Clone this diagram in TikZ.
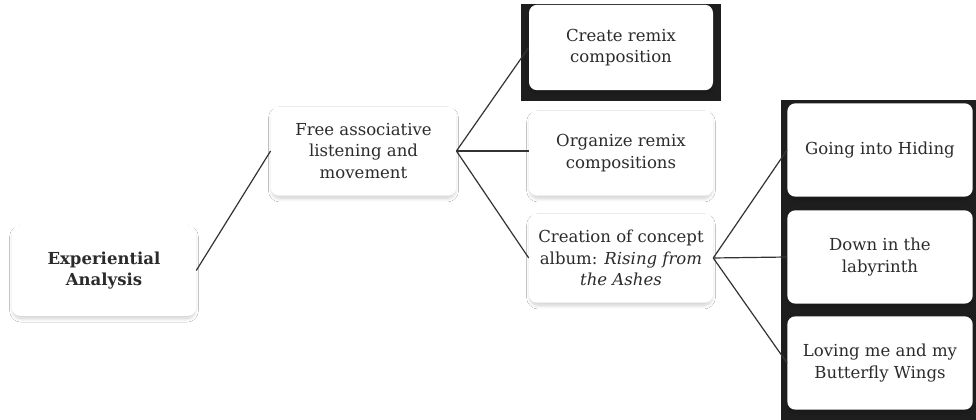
\documentclass[tikz,border=0pt]{standalone}
\usepackage{fontspec}
\setmainfont{DejaVu Serif}
\usetikzlibrary{shadows.blur}
\definecolor{txt}{HTML}{2B2B2B}
\definecolor{ln}{HTML}{333333}
\definecolor{blk}{HTML}{1E1E1E}
\tikzset{
  card/.style={draw=none, fill=white, rounded corners=6pt, align=center,
    text=txt, font=\fontsize{12.4}{16}\selectfont, inner sep=2pt,
    blur shadow={shadow xshift=0pt, shadow yshift=-2.5pt, shadow scale=0.985, shadow blur steps=10, shadow opacity=20, shadow blur radius=2.8pt}},
  conn/.style={draw=ln, line width=0.9pt},
  band/.style={fill=blk, draw=none}
}
\begin{document}
\begin{tikzpicture}[x=0.75pt, y=-0.75pt]
\useasboundingbox (0,0) rectangle (976,420);
\fill[white] (0,0) rectangle (976,420);
% black backgrounds
\fill[band] (521,4) rectangle (721,101);
\fill[band] (781,100) rectangle (976,420);
% cards
\node[card, minimum width=138pt, minimum height=68pt] (exp) at (104,270.5) {\textbf{Experiential}\\\textbf{Analysis}};
\node[card, minimum width=139pt, minimum height=67pt] (free) at (363.5,151) {Free associative\\listening and\\movement};
\node[card, minimum width=138pt, minimum height=64pt] (create) at (621,47.5) {Create remix\\composition};
\node[card, minimum width=138pt, minimum height=64pt] (org) at (621,153) {Organize remix\\compositions};
\node[card, minimum width=138pt, minimum height=67pt] (conc) at (621,258) {Creation of concept\\album: \textit{Rising from}\\\textit{the Ashes}};
\node[card, minimum width=139pt, minimum height=70pt] (going) at (880,150) {Going into Hiding};
\node[card, minimum width=139pt, minimum height=70pt] (down) at (880,257) {Down in the\\labyrinth};
\node[card, minimum width=139pt, minimum height=70pt] (loving) at (880,363) {Loving me and my\\Butterfly Wings};
% connectors
\draw[conn] (exp.east) -- (free.west);
\draw[conn] (free.east) -- (create.west);
\draw[conn] (free.east) -- (org.west |- free.east);
\draw[conn] (free.east) -- (conc.west);
\draw[conn] (conc.east) -- (going.west);
\draw[conn] (conc.east) -- (down.west);
\draw[conn] (conc.east) -- (loving.west);
\end{tikzpicture}
\end{document}
